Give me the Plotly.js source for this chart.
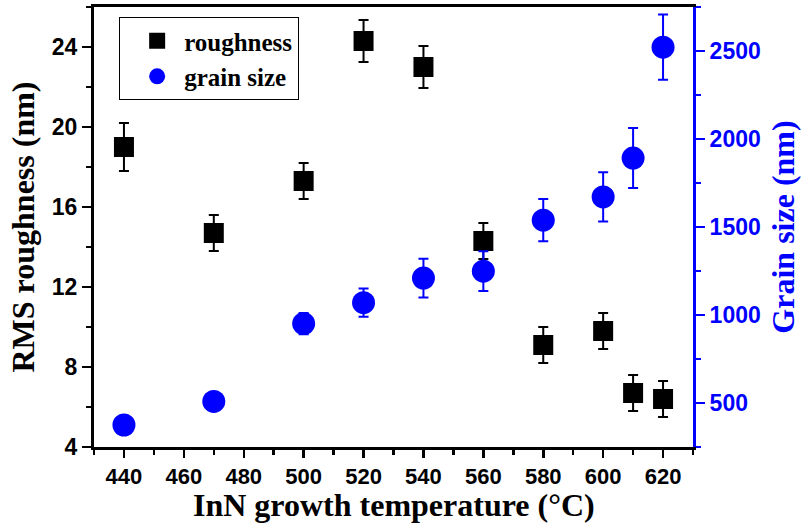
<!DOCTYPE html>
<html>
<head>
<meta charset="utf-8">
<script src="https://cdn.plot.ly/plotly-3.0.1.min.js"></script>
<style>html,body{margin:0;padding:0;background:#fff;}#chart{width:804px;height:524px;}</style>
</head>
<body>
<div id="chart"></div>
<script>
// Data
var temperature = [440, 470, 500, 520, 540, 560, 580, 600, 610, 620];
var roughness = [19.0, 14.7, 17.3, 24.3, 23.0, 14.3, 9.1, 9.8, 6.7, 6.4];
var roughnessErr = [1.2, 0.9, 0.9, 1.05, 1.05, 0.9, 0.9, 0.9, 0.9, 0.9];
var grainSize = [375, 509, 951, 1070, 1210, 1249, 1539, 1671, 1892, 2522];
var grainSizeErr = [30, 30, 60, 80, 110, 113, 120, 140, 170, 185];
var xTickVals = [440, 460, 480, 500, 520, 540, 560, 580, 600, 620];
var xTitle = 'InN growth temperature (°C)';

var BLUE = '#0000ff';
var tickFamily = '"Liberation Sans", Arial, sans-serif';
var titleFontFamily = '"Liberation Serif", "Times New Roman", serif';

var traces = [
  {
    x: temperature, y: roughness, name: 'roughness', type: 'scatter', mode: 'markers',
    marker: {symbol: 'square', size: 20, color: '#000'},
    error_y: {type: 'data', array: roughnessErr, visible: true, color: '#000', thickness: 2, width: 5},
    xaxis: 'x', yaxis: 'y'
  },
  {
    x: temperature, y: grainSize, name: 'grain size', type: 'scatter', mode: 'markers',
    marker: {symbol: 'circle', size: 23, color: BLUE},
    error_y: {type: 'data', array: grainSizeErr, visible: true, color: BLUE, thickness: 2, width: 5},
    xaxis: 'x', yaxis: 'y2'
  }
];

var layout = {
  width: 804, height: 524,
  margin: {l: 94, r: 111, t: 7, b: 77, pad: 0},
  paper_bgcolor: '#fff', plot_bgcolor: '#fff',
  showlegend: true,
  legend: {
    x: 0.042, y: 0.977, xanchor: 'left', yanchor: 'top',
    bgcolor: '#fff', bordercolor: '#000', borderwidth: 1,
    font: {family: titleFontFamily, size: 25, color: '#000', weight: 'bold'},
    itemsizing: 'trace', indentation: 10, itemwidth: 44
  },
  xaxis: {
    range: [430, 630], tickvals: xTickVals, ticktext: xTickVals.map(String),
    showgrid: false, zeroline: false,
    showline: true, linecolor: '#000', linewidth: 3, mirror: true,
    ticks: 'outside', ticklen: 8, tickwidth: 2.5, tickcolor: '#000',
    minor: {dtick: 10, tick0: 430, ticks: 'outside', ticklen: 5, tickwidth: 2.5, tickcolor: '#000', showgrid: false},
    tickfont: {family: tickFamily, size: 22, color: '#000', weight: 'bold'}
  },
  xaxis2: {
    overlaying: 'x', matches: 'x', side: 'top', range: [430, 630],
    showgrid: false, zeroline: false, showticklabels: false, showline: false,
    tickvals: xTickVals, ticks: 'inside', ticklen: 5, tickwidth: 2, tickcolor: '#000',
    minor: {dtick: 10, tick0: 430, ticks: 'inside', ticklen: 3, tickwidth: 2, tickcolor: '#000'}
  },
  yaxis: {
    range: [4, 26], dtick: 4, tick0: 4,
    showgrid: false, zeroline: false,
    showline: true, linecolor: '#000', linewidth: 3,
    ticks: 'outside', ticklen: 9, tickwidth: 2.5, tickcolor: '#000',
    minor: {dtick: 2, tick0: 4, ticks: 'outside', ticklen: 5, tickwidth: 2.5, tickcolor: '#000', showgrid: false},
    tickfont: {family: tickFamily, size: 23, color: '#000', weight: 'bold'},
    title: {text: 'RMS roughness (nm)', font: {family: titleFontFamily, size: 32, color: '#000', weight: 'bold'}, standoff: 8}
  },
  yaxis2: {
    overlaying: 'y', side: 'right', range: [250, 2750], dtick: 500, tick0: 500,
    showgrid: false, zeroline: false,
    showline: true, linecolor: BLUE, linewidth: 3,
    ticks: 'outside', ticklen: 9, tickwidth: 2.5, tickcolor: BLUE,
    minor: {dtick: 250, tick0: 250, ticks: 'outside', ticklen: 5, tickwidth: 2.5, tickcolor: BLUE, showgrid: false},
    tickfont: {family: tickFamily, size: 23, color: BLUE, weight: 'bold'},
    title: {text: 'Grain size (nm)', font: {family: titleFontFamily, size: 32, color: BLUE, weight: 'bold'}, standoff: 12}
  },
  annotations: [{
    text: xTitle, xref: 'paper', yref: 'paper', x: 0.5, y: 0,
    xanchor: 'center', yanchor: 'bottom', yshift: -77, showarrow: false,
    borderpad: 0,
    font: {family: titleFontFamily, size: 32, color: '#000', weight: 'bold'}
  }]
};

Plotly.newPlot('chart', traces, layout, {displayModeBar: false, staticPlot: true});
</script>
</body>
</html>
